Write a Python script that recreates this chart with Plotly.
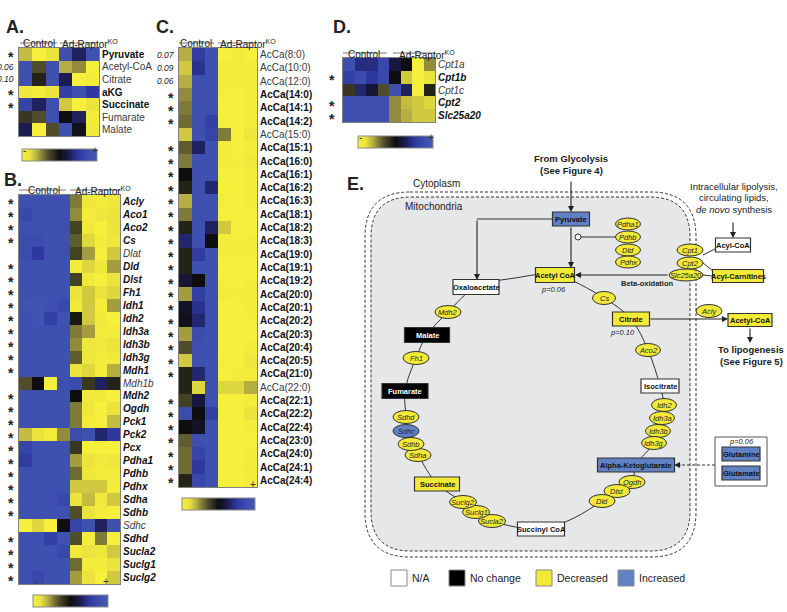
import plotly.graph_objects as go

W, H = 787, 612
FONT = "Liberation Sans, Arial, sans-serif"

# ---------------- heatmap data (-1 = low / yellow, +1 = high / blue) ----------------
a_cols = ["C1", "C2", "C3", "K1", "K2", "K3"]
a_rows = ["Pyruvate", "Acetyl-CoA", "Citrate", "aKG", "Succinate", "Fumarate", "Malate"]
a_sig = ["*", "0.06", "0.10", "*", "*", "", ""]
a_vals = [
    [-0.65, -1.0, -0.8, 0.8, 0.3, 0.85],
    [0.8, -0.3, 0.85, -0.6, -0.5, -1.0],
    [0.8, -0.1, 0.85, 0.25, -1.0, -0.95],
    [-0.85, -0.95, -0.8, 0.6, 0.85, 0.5],
    [0.65, 0.3, 0.8, -0.7, -1.0, -0.8],
    [-0.2, -0.3, 0.8, 0.0, 0.3, -0.95],
    [0.25, -1.0, -0.3, 0.8, 0.05, -0.9],
]

b_cols = ["C1", "C2", "C3", "C4", "K1", "K2", "K3", "K4"]
b_rows = ["Acly", "Aco1", "Aco2", "Cs", "Dlat", "Dld", "Dlst", "Fh1", "Idh1", "Idh2",
          "Idh3a", "Idh3b", "Idh3g", "Mdh1", "Mdh1b", "Mdh2", "Ogdh", "Pck1", "Pck2", "Pcx",
          "Pdha1", "Pdhb", "Pdhx", "Sdha", "Sdhb", "Sdhc", "Sdhd", "Sucla2", "Suclg1", "Suclg2"]
b_sig = ["*", "*", "*", "*", "", "*", "*", "*", "*", "*",
         "*", "*", "*", "*", "", "*", "*", "*", "*", "*",
         "*", "*", "*", "*", "*", "", "*", "*", "*", "*"]
b_vals = [
    [0.85, 0.85, 0.85, 0.85, -0.45, -0.85, -0.95, -0.85],
    [0.7, 0.85, 0.85, 0.8, -0.5, -0.95, -0.85, -0.8],
    [0.85, 0.85, 0.85, 0.8, -0.25, -0.9, -1.0, -0.8],
    [0.75, 0.75, 0.85, 0.8, -0.35, -0.75, -0.95, -0.85],
    [0.75, 0.5, 0.85, 0.8, -0.25, -0.55, -1.0, -0.7],
    [0.85, 0.85, 0.85, 0.85, -0.95, -0.75, -0.85, -0.55],
    [0.85, 0.85, 0.85, 0.85, -0.25, -0.9, -1.0, -0.8],
    [0.8, 0.85, 0.85, 0.85, -0.8, -0.7, -0.8, -0.75],
    [0.9, 0.9, 0.85, 0.7, -0.9, -0.7, -0.95, -0.55],
    [0.85, 0.9, 0.6, 0.85, -0.05, -0.7, -0.9, -1.0],
    [0.85, 0.85, 0.85, 0.85, -0.45, -0.55, -0.95, -0.95],
    [0.85, 0.85, 0.85, 0.85, -0.5, -0.85, -0.9, -0.8],
    [0.85, 0.85, 0.8, 0.85, -0.35, -0.85, -0.95, -0.9],
    [0.85, 0.85, 0.85, 0.85, -0.8, -0.75, -0.95, -0.6],
    [-0.3, 0.0, -1.0, 0.8, 0.75, -0.2, 0.3, -0.1],
    [0.8, 0.85, 0.85, 0.85, 0.0, -0.9, -0.9, -1.0],
    [0.85, 0.85, 0.8, 0.85, -0.45, -0.85, -1.0, -0.8],
    [0.85, 0.85, 0.85, 0.85, -0.45, -0.95, -1.0, -0.65],
    [-0.65, -0.8, -0.95, -0.5, 0.75, 0.85, 0.35, 0.5],
    [0.65, 0.85, 0.85, 0.85, -0.2, -1.0, -1.0, -1.0],
    [0.55, 0.85, 0.85, 0.85, -0.55, -0.8, -0.9, -0.85],
    [0.8, 0.85, 0.85, 0.85, -0.4, -0.85, -0.95, -0.95],
    [0.85, 0.8, 0.85, 0.85, -0.7, -0.7, -0.7, -0.95],
    [0.85, 0.85, 0.85, 0.7, -0.8, -0.65, -0.9, -0.7],
    [0.85, 0.85, 0.85, 0.85, -0.3, -0.8, -0.95, -1.0],
    [-1.0, -0.75, -1.0, 0.02, 0.65, 0.85, 0.3, 0.8],
    [0.85, 0.85, 0.6, 0.85, -0.3, -0.95, -0.45, -1.0],
    [0.85, 0.85, 0.85, 0.7, -0.9, -0.8, -0.85, -0.7],
    [0.85, 0.85, 0.85, 0.85, -0.4, -0.95, -0.95, -0.8],
    [0.85, 0.7, 0.85, 0.85, -0.55, -0.8, -1.0, -0.7],
]

c_cols = ["C1", "C2", "C3", "K1", "K2", "K3"]
c_rows = ["AcCa(8:0)", "AcCa(10:0)", "AcCa(12:0)", "AcCa(14:0)", "AcCa(14:1)", "AcCa(14:2)",
          "AcCa(15:0)", "AcCa(15:1)", "AcCa(16:0)", "AcCa(16:1)", "AcCa(16:2)", "AcCa(16:3)",
          "AcCa(18:1)", "AcCa(18:2)", "AcCa(18:3)", "AcCa(19:0)", "AcCa(19:1)", "AcCa(19:2)",
          "AcCa(20:0)", "AcCa(20:1)", "AcCa(20:2)", "AcCa(20:3)", "AcCa(20:4)", "AcCa(20:5)",
          "AcCa(21:0)", "AcCa(22:0)", "AcCa(22:1)", "AcCa(22:2)", "AcCa(22:4)", "AcCa(23:0)",
          "AcCa(24:0)", "AcCa(24:1)", "AcCa(24:4)"]
c_sig = ["0.07", "0.09", "0.06", "*", "*", "*", "", "*", "*", "*", "*", "*",
         "*", "*", "*", "*", "*", "*", "*", "*", "*", "*", "*", "*",
         "*", "", "*", "*", "*", "*", "*", "*", "*"]
c_vals = [
    [-0.6, 0.55, 0.85, -1.0, -0.92, -1.0],
    [-0.7, 0.45, 0.85, -0.95, -0.95, -0.95],
    [-0.6, 0.85, 0.85, -0.97, -0.97, -0.97],
    [-0.5, 0.85, 0.85, -0.97, -1.0, -0.97],
    [-0.45, 0.85, 0.85, -1.0, -1.0, -0.97],
    [-0.4, 0.8, 0.6, -0.97, -1.0, -0.97],
    [-0.7, 0.8, 0.65, -0.45, -1.0, -0.85],
    [-0.35, 0.3, 0.85, -0.95, -1.0, -0.97],
    [-0.45, 0.85, 0.85, -0.97, -0.97, -0.9],
    [0.0, 0.8, 0.85, -1.0, -1.0, -0.97],
    [-0.1, 0.8, 0.35, -1.0, -1.0, -0.97],
    [-0.6, 0.85, 0.85, -0.97, -1.0, -0.95],
    [-0.45, 0.85, 0.85, -1.0, -1.0, -1.0],
    [-0.1, 0.85, 0.3, -0.7, -1.0, -1.0],
    [0.35, 0.8, 0.0, -0.95, -0.97, -0.95],
    [-0.1, 0.55, 0.85, -0.97, -0.97, -0.97],
    [-0.1, 0.85, 0.85, -1.0, -1.0, -1.0],
    [0.15, 0.0, 0.85, -0.97, -1.0, -0.97],
    [-0.55, 0.6, 0.85, -0.95, -0.97, -0.95],
    [0.1, 0.45, 0.85, -1.0, -1.0, -0.97],
    [0.05, 0.35, 0.85, -1.0, -0.97, -0.97],
    [-0.55, 0.75, 0.85, -1.0, -1.0, -1.0],
    [-0.3, 0.8, 0.85, -1.0, -1.0, -0.95],
    [-0.7, 0.8, 0.85, -0.97, -1.0, -0.88],
    [-0.1, 0.35, 0.85, -1.0, -0.93, -0.95],
    [-0.1, -0.75, 0.85, -0.75, -0.75, -0.6],
    [-0.25, 0.2, 0.85, -1.0, -1.0, -0.95],
    [0.75, 0.0, 0.6, -1.0, -1.0, -0.8],
    [0.0, 0.1, 0.85, -1.0, -1.0, -0.97],
    [-0.35, 0.8, 0.85, -1.0, -1.0, -1.0],
    [-0.4, 0.65, 0.85, -1.0, -1.0, -0.97],
    [-0.4, 0.5, 0.85, -1.0, -1.0, -0.92],
    [-0.1, 0.7, 0.85, -1.0, -1.0, -0.97],
]

d_cols = ["C1", "C2", "C3", "C4", "K1", "K2", "K3", "K4"]
d_rows = ["Cpt1a", "Cpt1b", "Cpt1c", "Cpt2", "Slc25a20"]
d_sig = ["", "*", "", "*", "*"]
d_vals = [
    [0.8, 0.4, 0.4, 0.7, 0.2, 0.0, -1.0, -0.5],
    [0.6, 0.75, 0.5, 0.7, 0.0, -0.7, -1.0, -0.8],
    [-0.2, 0.35, 0.15, -0.3, 0.8, 0.3, -1.0, -0.1],
    [0.8, 0.8, 0.8, 0.8, -0.5, -0.65, -0.7, -0.75],
    [0.8, 0.8, 0.8, 0.8, -0.5, -0.6, -0.7, -0.7],
]

# ---------------- pathway (panel E) ----------------
metabolites = ["Pyruvate", "Acetyl CoA", "Oxaloacetate", "Malate", "Fumarate", "Succinate",
               "Succinyl CoA", "Alpha-Ketoglutarate", "Isocitrate", "Citrate",
               "Acyl-CoA", "Acyl-Carnitines", "Acetyl-CoA", "Glutamine", "Glutamate"]
metabolite_state = ["up", "down", "na", "nc", "nc", "down",
                    "na", "up", "na", "down",
                    "na", "down", "down", "up", "up"]
enzymes = ["Pdha1", "Pdhb", "Dld", "Pdhx", "Cs", "Aco2", "Idh2", "Idh3a", "Idh3b", "Idh3g",
           "Ogdh", "Dlst", "Dld ", "Sucla2", "Suclg1", "Suclg2", "Sdha", "Sdhb", "Sdhc", "Sdhd",
           "Fh1", "Mdh2", "Cpt1", "Cpt2", "Slc25a20", "Acly"]
enzyme_state = ["down"] * 18 + ["up"] + ["down"] * 7
legend_states = ["na", "nc", "down", "up"]
legend_names = ["N/A", "No change", "Decreased", "Increased"]

# ---------------- layout positions (pixels) ----------------
box_pos = {  # cx, cy, w, h
    "Pyruvate": (571, 219, 37, 14), "Acetyl CoA": (555, 275, 39, 15),
    "Oxaloacetate": (476, 287, 46, 15), "Malate": (427, 335, 45, 15),
    "Fumarate": (405, 391, 46, 15), "Succinate": (437, 484, 45, 14),
    "Succinyl CoA": (541, 529, 47, 14), "Alpha-Ketoglutarate": (636, 465, 77, 14),
    "Isocitrate": (660, 386, 38, 14), "Citrate": (631, 319, 37, 14),
    "Acyl-CoA": (733, 245, 35, 14), "Acyl-Carnitines": (738, 276, 51, 13),
    "Acetyl-CoA": (750, 320, 44, 13), "Glutamine": (741, 454, 38, 14),
    "Glutamate": (741, 473, 38, 14),
}
ell_pos = {  # cx, cy, w, h
    "Pdha1": (628, 224, 25, 12), "Pdhb": (628, 237, 25, 12), "Dld": (628, 250, 25, 12),
    "Pdhx": (628, 262, 25, 12), "Cs": (604, 298, 23, 13), "Aco2": (648, 350, 25, 13),
    "Idh2": (664, 405, 25, 13), "Idh3a": (662, 418, 25, 13), "Idh3b": (658, 431, 25, 13),
    "Idh3g": (654, 443, 25, 13), "Ogdh": (632, 482, 26, 13), "Dlst": (617, 491, 26, 13),
    "Dld ": (602, 501, 26, 13), "Sucla2": (492, 521, 27, 13), "Suclg1": (476, 512, 27, 13),
    "Suclg2": (463, 502, 27, 13), "Sdha": (418, 455, 26, 13), "Sdhb": (411, 444, 26, 13),
    "Sdhc": (406, 431, 26, 13), "Sdhd": (406, 417, 26, 13), "Fh1": (416, 358, 26, 13),
    "Mdh2": (448, 312, 26, 13), "Cpt1": (690, 250, 26, 12), "Cpt2": (690, 263, 26, 12),
    "Slc25a20": (686, 275, 34, 12), "Acly": (709, 311, 26, 13),
}
cycle = ["Acetyl CoA", "Cs", "Citrate", "Aco2", "Isocitrate", "Idh2", "Idh3a", "Idh3b", "Idh3g",
         "Alpha-Ketoglutarate", "Ogdh", "Dlst", "Dld ", (574, 518), "Succinyl CoA", "Sucla2",
         "Suclg1", "Suclg2", "Succinate", "Sdha", "Sdhb", "Sdhc", "Sdhd", "Fumarate", "Fh1",
         "Malate", "Mdh2", "Oxaloacetate", (515, 278), "Acetyl CoA"]

fill = {"up": "#6181c5", "down": "#f3ea37", "na": "#ffffff", "nc": "#000000"}
scale = [[0, "#f6ef3b"], [0.1, "#ebe43c"], [0.2, "#b5ae42"], [0.28, "#7c7637"],
         [0.36, "#4a4828"], [0.5, "#0e0e0e"], [0.62, "#1a1b4c"], [0.75, "#2e38a0"],
         [0.88, "#3c4dad"], [1, "#4558b4"]]


def fx(x):
    return x / W


def fy(y):
    return 1 - y / H


fig = go.Figure()
shapes, annots = [], []

# panel geometry (pixels): heatmap box, colorbar box, heading y / control centre / KO left,
# underline y and spans, x of the significance column
panels = [
    dict(cols=a_cols, rows=a_rows, sig=a_sig, vals=a_vals, ital=False,
         box=(19, 48, 99, 136), bar=(22, 149, 97, 161), head=(36, 39, 60),
         line=(43, (20, 57), (60, 97)), sx=16),
    dict(cols=b_cols, rows=b_rows, sig=b_sig, vals=b_vals, ital=True,
         box=(19, 195, 120, 584), bar=(33, 595, 108, 607), head=(183, 44, 73),
         line=(190, (19, 66), (70, 120)), sx=16),
    dict(cols=c_cols, rows=c_rows, sig=c_sig, vals=c_vals, ital=False,
         box=(179, 48, 257, 487), bar=(182, 498, 255, 510), head=(36, 196, 218),
         line=(43, (179, 214), (218, 257)), sx=176),
    dict(cols=d_cols, rows=d_rows, sig=d_sig, vals=d_vals, ital=True,
         box=(343, 58, 435, 122), bar=(358, 136, 433, 148), head=(47, 364, 397),
         line=(53, (343, 387), (393, 435)), sx=337),
]
layout_axes = {}
for i, p in enumerate(panels):
    k = i + 2
    x0, y0, x1, y1 = p["box"]
    bx0, by0, bx1, by1 = p["bar"]
    n, nr = len(p["cols"]), len(p["rows"])
    labels = []
    for r, s in zip(p["rows"], p["sig"]):
        t = f"<i>{r}</i>" if p["ital"] else r
        labels.append(f"<b>{t}</b>" if s == "*" else f"<span style='color:#3a3a3a'>{t}</span>")
    fig.add_trace(go.Heatmap(
        z=p["vals"], x=p["cols"], y=p["rows"], xaxis=f"x{k}", yaxis=f"y{k}",
        colorscale=scale, zmin=-1, zmax=1, hoverinfo="skip",
        colorbar=dict(orientation="h", x=fx(bx0), xanchor="left", y=fy(by0), yanchor="top",
                      len=bx1 - bx0, lenmode="pixels", thickness=by1 - by0,
                      thicknessmode="pixels", xpad=0, ypad=0, outlinewidth=1,
                      outlinecolor="#8a8a8a", showticklabels=False, ticks="")))
    layout_axes[f"xaxis{k}"] = dict(domain=[fx(x0), fx(x1)], anchor=f"y{k}", showticklabels=False,
                                    range=[-0.5, n - 0.5], autorange=False,
                                    ticks="", showgrid=False, zeroline=False, showline=True,
                                    mirror=True, linecolor="#808080", linewidth=1)
    layout_axes[f"yaxis{k}"] = dict(domain=[fy(y1), fy(y0)], anchor=f"x{k}", side="right",
                                    range=[nr - 0.5, -0.5], autorange=False,
                                    tickvals=p["rows"], ticktext=labels,
                                    ticks="", showgrid=False, zeroline=False, showline=True,
                                    mirror=True, linecolor="#808080", linewidth=1,
                                    tickfont=dict(family=FONT, size=10, color="#111"))
    for r, s in zip(p["rows"], p["sig"]):
        if not s:
            continue
        star = s == "*"
        annots.append(dict(xref="paper", yref=f"y{k}", x=fx(p["sx"]), y=r, xanchor="right",
                           text=f"<b>{s}</b>" if star else f"<i>{s}</i>", showarrow=False,
                           yshift=-3 if star else 0,
                           font=dict(family=FONT, size=14 if star else 8.5, color="#222")))
    hy, cc, kl = p["head"]
    annots.append(dict(xref="paper", yref="paper", x=fx(cc), y=fy(hy), xanchor="center",
                       text="Control", showarrow=False,
                       font=dict(family=FONT, size=10, color="#222")))
    annots.append(dict(xref="paper", yref="paper", x=fx(kl), y=fy(hy), xanchor="left",
                       text="Ad-Raptor<sup>KO</sup>", showarrow=False,
                       font=dict(family=FONT, size=10, color="#222")))
    ly, s1, s2 = p["line"]
    for a, b in (s1, s2):
        shapes.append(dict(type="line", xref="paper", yref="paper", x0=fx(a), x1=fx(b),
                           y0=fy(ly), y1=fy(ly), line=dict(color="#777", width=1)))
    for t, xx in [("-", bx0 + 2), ("+", bx1 - 2)]:
        annots.append(dict(xref="paper", yref="paper", x=fx(xx), y=fy(by0 - 6), text=t,
                           xanchor="center", showarrow=False,
                           font=dict(family=FONT, size=10, color="#333")))

# panel letters
for t, x, y in [("A.", 4, 15), ("B.", 2, 168), ("C.", 154, 15), ("D.", 331, 15), ("E.", 345, 172)]:
    annots.append(dict(xref="paper", yref="paper", x=fx(x), y=fy(y), xanchor="left", text=f"<b>{t}</b>",
                       showarrow=False, font=dict(family=FONT, size=18, color="#222")))


# ---- panel E drawing in pixel coordinates on the base axes ----
def rrect(x0, y0, x1, y1, r):
    return (f"M{x0 + r},{y0} L{x1 - r},{y0} Q{x1},{y0} {x1},{y0 + r} L{x1},{y1 - r} "
            f"Q{x1},{y1} {x1 - r},{y1} L{x0 + r},{y1} Q{x0},{y1} {x0},{y1 - r} "
            f"L{x0},{y0 + r} Q{x0},{y0} {x0 + r},{y0} Z")


shapes.append(dict(type="path", xref="x", yref="y", path=rrect(371, 197, 690, 551, 40),
                   fillcolor="#e6e7e9", line=dict(color="#333", width=1, dash="3px,2px"), layer="below"))
shapes.append(dict(type="path", xref="x", yref="y", path=rrect(365, 192, 696, 557, 45),
                   line=dict(color="#333", width=1, dash="3px,2px"), layer="below"))

# TCA cycle connector
pts = [box_pos[c][:2] if isinstance(c, str) and c in box_pos else
       (ell_pos[c][:2] if isinstance(c, str) else c) for c in cycle]
fig.add_trace(go.Scatter(x=[p[0] for p in pts], y=[p[1] for p in pts], mode="lines",
                         line=dict(color="#333", width=1, shape="spline", smoothing=1),
                         hoverinfo="skip", showlegend=False, xaxis="x", yaxis="y"))


def seg(pts, dash=None):
    path = "M" + " L".join(f"{x},{y}" for x, y in pts)
    shapes.append(dict(type="path", xref="x", yref="y", path=path,
                       line=dict(color="#333", width=1, dash=dash or "solid")))


def arrow(x0, y0, x1, y1):
    annots.append(dict(xref="x", yref="y", axref="x", ayref="y", x=x1, y=y1, ax=x0, ay=y0,
                       text="", showarrow=True, arrowhead=2, arrowsize=1.1, arrowwidth=1.1,
                       arrowcolor="#222", standoff=0))


seg([(553, 219), (477, 219)])
seg([(715, 249), (703, 255)])
seg([(703, 263), (713, 271)])
seg([(703, 275), (712, 276)])
seg([(581, 237), (616, 237)])
seg([(715, 465), (681, 465)], dash="3px,2px")
arrow(477, 219, 477, 280)
arrow(571, 180, 571, 212)
arrow(571, 226, 571, 268)
arrow(669, 275, 575, 275)
arrow(649, 319, 728, 319)
arrow(750, 327, 750, 343)
arrow(733, 221, 733, 238)
arrow(682, 465, 674, 465)
shapes.append(dict(type="circle", xref="x", yref="y", x0=575, x1=581, y0=234, y1=240,
                   fillcolor="white", line=dict(color="#333", width=1)))

# glutamine / glutamate holder
shapes.append(dict(type="rect", xref="x", yref="y", x0=715, x1=767, y0=437, y1=486,
                   fillcolor="white", line=dict(color="#555", width=1)))

for name, st in zip(metabolites, metabolite_state):
    cx, cy, w, h = box_pos[name]
    shapes.append(dict(type="rect", xref="x", yref="y", x0=cx - w / 2, x1=cx + w / 2,
                       y0=cy - h / 2, y1=cy + h / 2, fillcolor=fill[st],
                       line=dict(color="#333", width=1.2)))
    annots.append(dict(xref="x", yref="y", x=cx, y=cy, text=f"<b>{name}</b>", showarrow=False,
                       font=dict(family=FONT, size=7.5, color="white" if st == "nc" else "#111")))

for name, st in zip(enzymes, enzyme_state):
    cx, cy, w, h = ell_pos[name]
    shapes.append(dict(type="circle", xref="x", yref="y", x0=cx - w / 2, x1=cx + w / 2,
                       y0=cy - h / 2, y1=cy + h / 2, fillcolor=fill[st],
                       line=dict(color="#333", width=1)))
    annots.append(dict(xref="x", yref="y", x=cx, y=cy, text=f"<i>{name.strip()}</i>",
                       showarrow=False, font=dict(family=FONT, size=7.5, color="#222")))

texts = [
    ("<b>From Glycolysis</b>", 571, 158, 9.5, "center"),
    ("<b>(See Figure 4)</b>", 571, 170, 9.5, "center"),
    ("Cytoplasm", 411, 183, 10, "left"),
    ("Mitochondria", 403, 206, 10, "left"),
    ("<b>Beta-oxidation</b>", 647, 283, 7.5, "center"),
    ("<i>p=0.06</i>", 553, 289, 7.5, "center"),
    ("<i>p=0.10</i>", 622, 332, 7.5, "center"),
    ("<i>p=0.06</i>", 741, 441, 7.5, "center"),
    ("Intracellular lipolysis,", 734, 186, 9.5, "center"),
    ("circulating lipids,", 734, 197, 9.5, "center"),
    ("<i>de novo</i> synthesis", 734, 209, 9.5, "center"),
    ("<b>To lipogenesis</b>", 751, 349, 9.5, "center"),
    ("<b>(See Figure 5)</b>", 751, 361, 9.5, "center"),
]
for t, x, y, s, anc in texts:
    annots.append(dict(xref="x", yref="y", x=x, y=y, text=t, showarrow=False, xanchor=anc,
                       font=dict(family=FONT, size=s, color="#222")))

# legend
for st, name, x in zip(legend_states, legend_names, [391, 449, 536, 618]):
    shapes.append(dict(type="rect", xref="x", yref="y", x0=x, x1=x + 16, y0=570, y1=586,
                       fillcolor=fill[st], line=dict(color="#888", width=1)))
    annots.append(dict(xref="x", yref="y", x=x + 19, y=578, text=name, showarrow=False,
                       xanchor="left", font=dict(family=FONT, size=10.5, color="#222")))

fig.update_layout(
    width=W, height=H, margin=dict(l=0, r=0, t=0, b=0, autoexpand=False),
    paper_bgcolor="white", plot_bgcolor="rgba(0,0,0,0)", showlegend=False,
    xaxis=dict(domain=[0, 1], range=[0, W], visible=False),
    yaxis=dict(domain=[0, 1], range=[H, 0], visible=False),
    shapes=shapes, annotations=annots, **layout_axes,
)
fig.write_html("out.html", config={"displayModeBar": False},
               post_script="document.body.style.margin='0';")
